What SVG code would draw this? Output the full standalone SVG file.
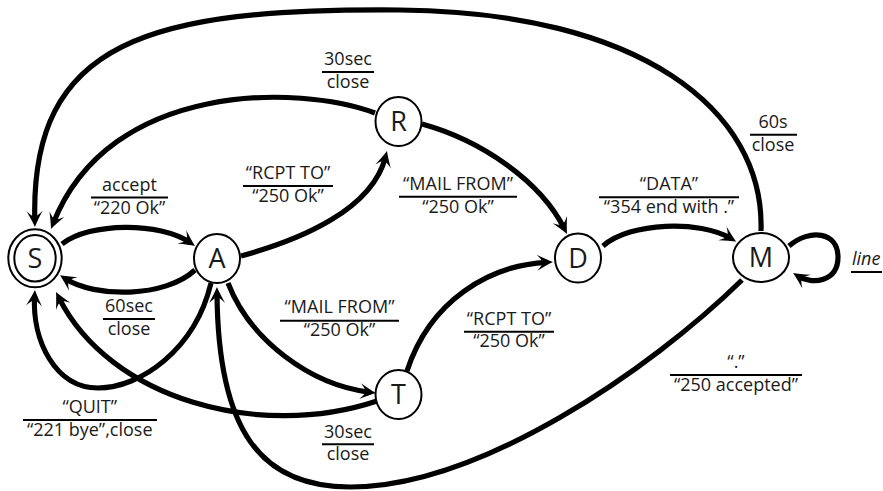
<svg xmlns="http://www.w3.org/2000/svg" width="883" height="491" viewBox="0 0 883 491">
  <style>
    .edge { fill: none; stroke: #000; stroke-width: 5.2; marker-end: url(#arrow); }
    .node { fill: #fff; stroke: #000; stroke-width: 2; }
    .nlabel { font-family: "Open Sans", "Noto Sans", sans-serif; font-size: 27px; fill: #1a1a1a; text-anchor: middle; }
    .lbl text { font-family: "Open Sans", "Noto Sans", sans-serif; font-size: 18px; fill: #1a1a1a; text-anchor: middle; }
    .lbl .it { font-style: italic; text-anchor: start; }
    .bar { stroke: #000; stroke-width: 2; }
  </style>
  <defs>
    <marker id="arrow" markerUnits="userSpaceOnUse" viewBox="-17 -9 19 18" markerWidth="19" markerHeight="18" refX="-6" refY="0" orient="auto">
      <path d="M0,0 Q-6,-2.5 -16,-8 Q-10.5,-2.5 -10.5,0 Q-10.5,2.5 -16,8 Q-6,2.5 0,0 Z" fill="#000"/>
    </marker>
  </defs>

  <!-- transitions -->
  <g id="connectors">
    <!-- S -> A : accept -->
    <path class="edge" d="M62,244 C90,222 160,222 190,242.5"/>
    <!-- A -> S : 60sec timeout -->
    <path class="edge" d="M195,270 C165,298 95,298 65,278.5"/>
    <!-- M -> S : 60s timeout (outer arc) -->
    <path class="edge" d="M761,231 C765,110 640,12 400,10 C150,8 30,40 34.8,221"/>
    <!-- R -> S : 30sec timeout -->
    <path class="edge" d="M375,113 C300,85 110,80 53.2,223.4"/>
    <!-- A -> R : RCPT TO -->
    <path class="edge" d="M241,256 C300,240 372,210 385.5,156.8"/>
    <!-- R -> D : MAIL FROM -->
    <path class="edge" d="M422,124 C480,140 540,180 564.3,228.6"/>
    <!-- D -> M : DATA -->
    <path class="edge" d="M603,246 C630,222 700,220 731,238.5"/>
    <!-- M -> M : line -->
    <path class="edge" d="M789,246 C810,228 838,232 838,257 C838,282 812,285 798.1,276.2"/>
    <!-- A -> T : MAIL FROM -->
    <path class="edge" d="M228,283 C250,340 310,385 370,392.3"/>
    <!-- T -> D : RCPT TO -->
    <path class="edge" d="M407,371 C430,300 490,265 547,262.3"/>
    <!-- T -> S : 30sec timeout -->
    <path class="edge" d="M377,401 C260,440 110,400 58.7,297.4"/>
    <!-- A -> S : QUIT -->
    <path class="edge" d="M211,283 C195,350 140,388 98,388 C55,388 32,340 34.6,296"/>
    <!-- M -> A : "." accepted -->
    <path class="edge" d="M742,280 C650,370 480,487 350,487 C260,487 218,430 217,293"/>
  </g>

  <!-- states -->
  <g id="S">
    <ellipse class="node" cx="35" cy="258.3" rx="26.7" ry="29"/>
    <ellipse class="node" cx="35" cy="258.3" rx="20.7" ry="23.3"/>
    <text class="nlabel" x="35" y="267.8">S</text>
  </g>
  <g id="A">
    <ellipse class="node" cx="217" cy="258.5" rx="23" ry="24.5"/>
    <text class="nlabel" x="217" y="268">A</text>
  </g>
  <g id="R">
    <ellipse class="node" cx="398.5" cy="121.5" rx="23" ry="24.5"/>
    <text class="nlabel" x="398.5" y="131">R</text>
  </g>
  <g id="T">
    <ellipse class="node" cx="398.5" cy="394.5" rx="23" ry="24.5"/>
    <text class="nlabel" x="398.5" y="404">T</text>
  </g>
  <g id="D">
    <ellipse class="node" cx="578" cy="258" rx="23" ry="24.5"/>
    <text class="nlabel" x="578" y="267.5">D</text>
  </g>
  <g id="M">
    <ellipse class="node" cx="761" cy="257.5" rx="28" ry="24.5"/>
    <text class="nlabel" x="761" y="267">M</text>
  </g>

  <!-- transition labels: input over output -->
  <g id="labels">
    <g class="lbl">
      <text x="129.5" y="191">accept</text>
      <line class="bar" x1="91" y1="197.5" x2="168" y2="197.5"/>
      <text x="129.5" y="214">“220 Ok”</text>
    </g>
    <g class="lbl">
      <text x="129" y="312">60sec</text>
      <line class="bar" x1="103" y1="319" x2="155" y2="319"/>
      <text x="129" y="335">close</text>
    </g>
    <g class="lbl">
      <text x="288" y="179">“RCPT TO”</text>
      <line class="bar" x1="243" y1="186" x2="333" y2="186"/>
      <text x="288" y="202">“250 Ok”</text>
    </g>
    <g class="lbl">
      <text x="458" y="190">“MAIL FROM”</text>
      <line class="bar" x1="399" y1="196.7" x2="517" y2="196.7"/>
      <text x="458" y="213">“250 Ok”</text>
    </g>
    <g class="lbl">
      <text x="348" y="65">30sec</text>
      <line class="bar" x1="322" y1="72" x2="374" y2="72"/>
      <text x="348" y="88">close</text>
    </g>
    <g class="lbl">
      <text x="773" y="128">60s</text>
      <line class="bar" x1="750" y1="134.7" x2="797" y2="134.7"/>
      <text x="773" y="151">close</text>
    </g>
    <g class="lbl">
      <text x="669" y="190">“DATA”</text>
      <line class="bar" x1="599" y1="197.3" x2="739" y2="197.3"/>
      <text x="669" y="213">“354 end with .”</text>
    </g>
    <g class="lbl">
      <text class="it" x="852" y="265">line</text>
      <line class="bar" x1="851" y1="272" x2="882" y2="272"/>
    </g>
    <g class="lbl">
      <text x="339.5" y="313">“MAIL FROM”</text>
      <line class="bar" x1="280" y1="320.7" x2="399" y2="320.7"/>
      <text x="339.5" y="336">“250 Ok”</text>
    </g>
    <g class="lbl">
      <text x="509" y="324.5">“RCPT TO”</text>
      <line class="bar" x1="464" y1="331.7" x2="554" y2="331.7"/>
      <text x="509" y="347">“250 Ok”</text>
    </g>
    <g class="lbl">
      <text x="736" y="368">“.”</text>
      <line class="bar" x1="670" y1="375" x2="802" y2="375"/>
      <text x="736" y="390.5">“250 accepted”</text>
    </g>
    <g class="lbl">
      <text x="89.7" y="413">“QUIT”</text>
      <line class="bar" x1="23" y1="420" x2="157" y2="420"/>
      <text x="89.7" y="436">“221 bye”,close</text>
    </g>
    <g class="lbl">
      <text x="348" y="437.5">30sec</text>
      <line class="bar" x1="322" y1="444.3" x2="374" y2="444.3"/>
      <text x="348" y="460">close</text>
    </g>
  </g>
</svg>
